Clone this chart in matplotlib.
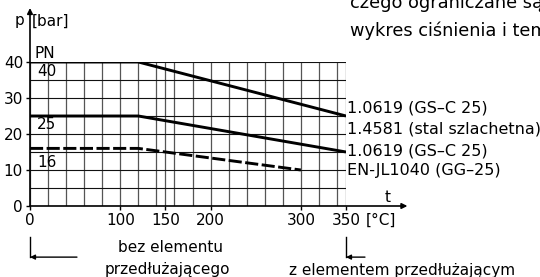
import numpy as np
import matplotlib
matplotlib.use("Agg")
import matplotlib.pyplot as plt

plt.rcParams["font.family"] = ["DejaVu Sans"]

# krzywe cisnienie-temperatura
t_pn40 = [0, 120, 350]
p_pn40 = [40, 40, 25]
t_pn25 = [0, 120, 350]
p_pn25 = [25, 25, 15]
t_pn16 = [0, 120, 300]
p_pn16 = [16, 16, 10]

x_grid = [0, 20, 40, 60, 80, 100, 120, 140, 150, 160, 180, 200, 220, 240,
          260, 280, 300, 320, 340, 350]
y_grid = [0, 5, 10, 15, 20, 25, 30, 35, 40]
x_ticks = [0, 100, 150, 200, 300, 350]
y_ticks = [0, 10, 20, 30, 40]

labels_right = ["1.0619 (GS–C 25)", "1.4581 (stal szlachetna)",
                "1.0619 (GS–C 25)", "EN-JL1040 (GG–25)"]
labels_right_y = [27.1, 21.3, 15.3, 10.0]

fig = plt.figure(figsize=(5.4, 2.77), dpi=100)
ax = fig.add_axes([30 / 540, 1 - 206 / 277, 316 / 540, 144 / 277])
ax.set_xlim(0, 350)
ax.set_ylim(0, 40)
for s in ax.spines.values():
    s.set_visible(False)

ax.vlines(x_grid, 0, 40, color="#555555", lw=0.9)
ax.hlines(y_grid, 0, 350, color="#111111", lw=0.8)

ax.plot(t_pn40, p_pn40, color="black", lw=2.1, solid_capstyle="butt")
ax.plot(t_pn25, p_pn25, color="black", lw=2.1, solid_capstyle="butt")
ax.plot(t_pn16, p_pn16, color="black", lw=2.1, ls=(0, (4.5, 1.2)))

# osie ze strzalkami
ax.annotate("", xy=(0, 55), xytext=(0, 0), annotation_clip=False,
            arrowprops=dict(arrowstyle="-|>", color="black", lw=1.2,
                            mutation_scale=8, shrinkA=0, shrinkB=0))
ax.annotate("", xy=(418, 0), xytext=(0, 0), annotation_clip=False,
            arrowprops=dict(arrowstyle="-|>", color="black", lw=1.2,
                            mutation_scale=8, shrinkA=0, shrinkB=0))

ax.set_xticks(x_ticks)
ax.set_yticks(y_ticks)
ax.tick_params(length=3, width=1, labelsize=11, pad=2)

fs = 11
ax.text(-12, 51.4, "p", fontsize=fs, ha="center", va="center")
ax.text(2, 51.4, "[bar]", fontsize=fs, ha="left", va="center")
ax.text(5, 42.3, "PN", fontsize=fs, va="center")
ax.text(8, 37.3, "40", fontsize=fs, va="center")
ax.text(8, 22.6, "25", fontsize=fs, va="center")
ax.text(8, 12.2, "16", fontsize=fs, va="center")
ax.text(396, 2.5, "t", fontsize=fs, ha="center", va="center")
ax.text(372, -4.0, "[°C]", fontsize=11, ha="left", va="center")

for y, lab in zip(labels_right_y, labels_right):
    ax.text(351, y, lab, fontsize=11.5, ha="left", va="center")

# zakresy z / bez elementu przedluzajacego
for x0, x1 in [(0, 52), (350, 371)]:
    ax.plot([x0, x0], [-8.5, -14.2], color="black", lw=1, clip_on=False)
    ax.annotate("", xy=(x0, -14.2), xytext=(x1, -14.2), annotation_clip=False,
                arrowprops=dict(arrowstyle="-|>", color="black", lw=1,
                                mutation_scale=7, shrinkA=0, shrinkB=0))
ax.text(156, -11.6, "bez elementu", fontsize=fs, ha="center", va="center")
ax.text(152, -17.7, "przedłużającego", fontsize=fs, ha="center", va="center")
ax.text(412, -17.9, "z elementem przedłużającym", fontsize=fs,
        ha="center", va="center")

fig.text(350 / 540, 1 - 3 / 277, "czego ograniczane są", fontsize=12.8,
         ha="left", va="center")
fig.text(350 / 540, 1 - 31 / 277, "wykres ciśnienia i temperatury",
         fontsize=12.8, ha="left", va="center")

fig.savefig("out.png", dpi=100)
